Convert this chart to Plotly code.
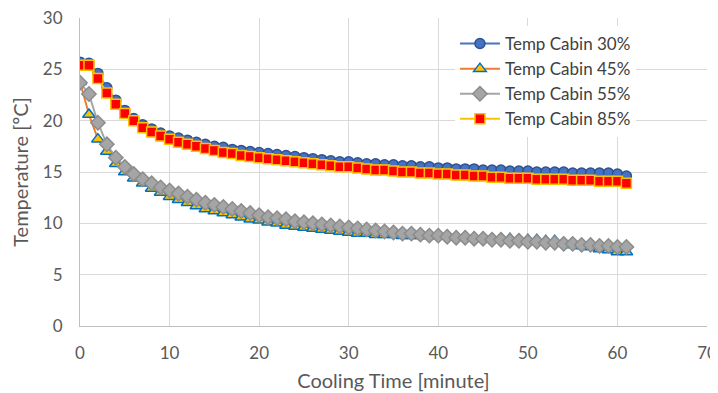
import plotly.graph_objects as go

minutes = list(range(62))

temp_30 = [25.7, 25.6, 24.6, 23.2, 22.0, 21.0, 20.2, 19.6, 19.2, 18.8, 18.5, 18.3, 18.1, 17.9, 17.7, 17.5,
           17.4, 17.2, 17.1, 17.0, 16.9, 16.8, 16.7, 16.6, 16.5, 16.4, 16.3, 16.2, 16.1, 16.0, 16.0, 15.9,
           15.8, 15.8, 15.7, 15.7, 15.6, 15.6, 15.5, 15.5, 15.4, 15.4, 15.3, 15.3, 15.3, 15.2, 15.2, 15.2,
           15.1, 15.1, 15.1, 15.0, 15.0, 15.0, 15.0, 14.9, 14.9, 14.9, 14.9, 14.9, 14.8, 14.6]
temp_45 = [23.8, 20.6, 18.2, 17.0, 15.8, 15.0, 14.4, 13.9, 13.4, 13.0, 12.6, 12.3, 12.0, 11.7, 11.4, 11.2,
           11.0, 10.8, 10.6, 10.4, 10.3, 10.1, 10.0, 9.8, 9.7, 9.6, 9.5, 9.4, 9.3, 9.2, 9.1, 9.0,
           9.0, 8.9, 8.9, 8.9, 8.8, 8.8, 8.8, 8.8, 8.8, 8.8, 8.7, 8.7, 8.6, 8.6, 8.5, 8.5,
           8.5, 8.4, 8.4, 8.4, 8.3, 8.3, 8.1, 7.9, 7.8, 7.7, 7.5, 7.4, 7.2, 7.2]
temp_55 = [23.7, 22.6, 19.8, 17.7, 16.4, 15.5, 14.8, 14.3, 13.9, 13.5, 13.2, 12.9, 12.6, 12.3, 12.0, 11.8,
           11.6, 11.4, 11.2, 11.0, 10.8, 10.6, 10.5, 10.4, 10.2, 10.1, 10.0, 9.9, 9.8, 9.7, 9.6, 9.5,
           9.4, 9.3, 9.2, 9.1, 9.0, 9.0, 8.9, 8.8, 8.8, 8.7, 8.6, 8.6, 8.5, 8.5, 8.4, 8.4,
           8.3, 8.3, 8.2, 8.2, 8.1, 8.1, 8.0, 8.0, 7.9, 7.9, 7.8, 7.8, 7.7, 7.7]
temp_85 = [25.4, 25.4, 24.1, 22.7, 21.6, 20.7, 20.0, 19.3, 18.9, 18.5, 18.2, 17.9, 17.7, 17.5, 17.3, 17.1,
           16.9, 16.8, 16.6, 16.5, 16.4, 16.3, 16.2, 16.1, 16.0, 15.9, 15.8, 15.7, 15.6, 15.5, 15.5, 15.4,
           15.3, 15.2, 15.2, 15.1, 15.0, 15.0, 14.9, 14.9, 14.8, 14.8, 14.7, 14.7, 14.6, 14.6, 14.5, 14.5,
           14.4, 14.4, 14.4, 14.3, 14.3, 14.3, 14.3, 14.2, 14.2, 14.2, 14.1, 14.1, 14.1, 13.9]

series = [
    ("Temp Cabin 30%", temp_30, "#4472C4", "circle", "#4472C4", "#2F528F", 10),
    ("Temp Cabin 45%", temp_45, "#ED7D31", "triangle-up", "#FFC000", "#0070C0", 11),
    ("Temp Cabin 55%", temp_55, "#A5A5A5", "diamond", "#A5A5A5", "#8C8C8C", 11),
    ("Temp Cabin 85%", temp_85, "#FFC000", "square", "#FF0000", "#FFC000", 10),
]

fig = go.Figure()
for name, vals, lc, sym, fc, oc, sz in series:
    fig.add_trace(go.Scatter(
        x=minutes, y=vals, name=name, mode="lines+markers",
        line=dict(color=lc, width=2),
        marker=dict(symbol=sym, color=fc, size=sz, line=dict(color=oc, width=1.5)),
    ))

fam = "Lato, Carlito, sans-serif"
fig.update_layout(
    width=710, height=385,
    margin=dict(l=72, r=11, t=10, b=67, autoexpand=False),
    paper_bgcolor="white", plot_bgcolor="white",
    font=dict(family=fam, size=17, color="#595959"),
    showlegend=True,
    legend=dict(x=0.598, y=0.974, xanchor="left", yanchor="top",
                bgcolor="rgba(255,255,255,1)", font=dict(family=fam, size=17, color="#404040"),
                itemwidth=40, tracegroupgap=0),
    xaxis=dict(range=[0, 70], dtick=10, showgrid=True, gridcolor="#D9D9D9", gridwidth=1,
               showline=True, linecolor="#BFBFBF", linewidth=1, zeroline=False,
               ticks="", ticklabelstandoff=12, automargin=False, ticklabeloverflow="allow",
               tickfont=dict(family=fam, size=17, color="#595959"),
               title=dict(text="Cooling Time [minute]", font=dict(family=fam, size=20, color="#595959"), standoff=11)),
    yaxis=dict(range=[0, 30], dtick=5, showgrid=True, gridcolor="#D9D9D9", gridwidth=1,
               showline=True, linecolor="#BFBFBF", linewidth=1, zeroline=False,
               ticks="", ticklabelstandoff=13, automargin=False, ticklabeloverflow="allow",
               tickfont=dict(family=fam, size=17, color="#595959"),
               title=dict(text="Temperature [ºC]", font=dict(family=fam, size=20, color="#595959"), standoff=8)),
)

fig.write_html("out.html")
